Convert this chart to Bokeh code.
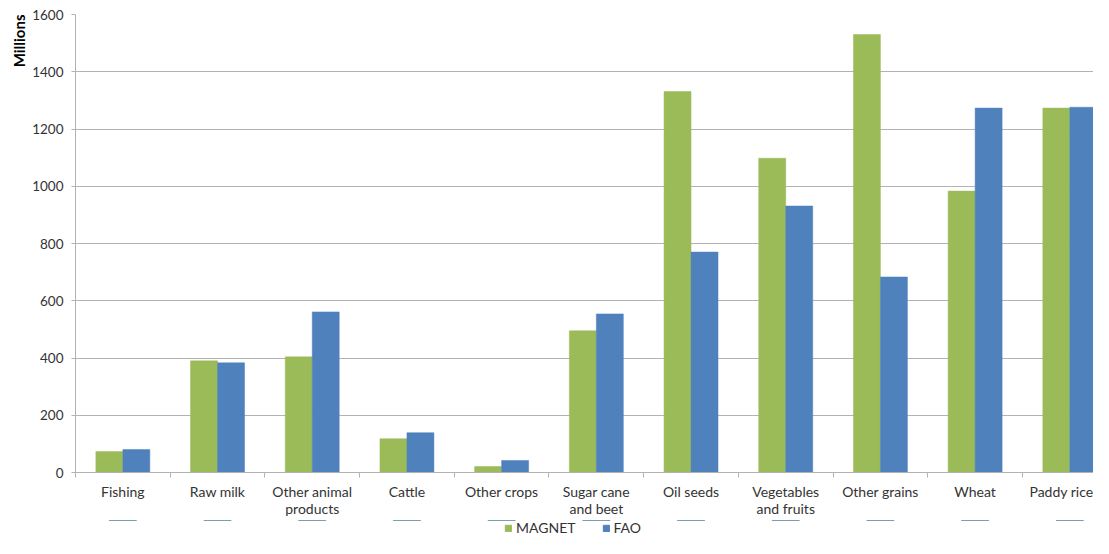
import numpy as np
from bokeh.plotting import figure
from bokeh.layouts import column
from bokeh.models import (ColumnDataSource, Range1d, FixedTicker, Legend, LegendItem, Title)
from bokeh.transform import dodge
from bokeh.embed import file_html
from bokeh.resources import INLINE

categories = ["Fishing", "Raw milk", "Other animal\nproducts", "Cattle", "Other crops",
              "Sugar cane\nand beet", "Oil seeds", "Vegetables\nand fruits", "Other grains",
              "Wheat", "Paddy rice"]
series_names = ["MAGNET", "FAO"]
magnet = [73, 390, 404, 118, 21, 495, 1331, 1098, 1530, 983, 1273]
fao = [80, 383, 561, 139, 42, 554, 770, 931, 683, 1273, 1276]
y_ticks = [0, 200, 400, 600, 800, 1000, 1200, 1400, 1600]

FONT = "Lato"
TXT = "#333333"
GREEN = "#9BBB59"
BLUE = "#4F81BD"
GRID = "#b3b3b3"

pos = [i + 0.5 for i in range(len(categories))]
src = ColumnDataSource(dict(pos=pos, magnet=magnet, fao=fao))

p = figure(width=1093, height=520, output_backend="svg", toolbar_location=None,
           x_range=Range1d(0, 10.75), y_range=Range1d(0, 1600),
           min_border_left=75, min_border_right=0, min_border_top=14, min_border_bottom=47)
p.outline_line_color = None
p.background_fill_color = "white"
p.border_fill_color = "white"

bw = 0.285
r1 = p.vbar(x=dodge("pos", -bw / 2), top="magnet", width=bw, source=src,
            fill_color=GREEN, line_color=GREEN, line_width=0.5)
r2 = p.vbar(x=dodge("pos", bw / 2), top="fao", width=bw, source=src,
            fill_color=BLUE, line_color=BLUE, line_width=0.5)

# x axis
xa = p.xaxis[0]
xa.ticker = FixedTicker(ticks=pos, minor_ticks=list(range(0, len(categories) + 1)))
xa.major_label_overrides = {pp: c for pp, c in zip(pos, categories)}
xa.major_tick_line_color = None
xa.minor_tick_line_color = GRID
xa.minor_tick_in = 0
xa.minor_tick_out = 5
xa.axis_line_color = GRID
xa.major_label_text_font = FONT
xa.major_label_text_font_size = "14px"
xa.major_label_text_color = TXT
xa.major_label_text_line_height = 1.05
xa.major_label_standoff = 4

# y axis
ya = p.yaxis[0]
ya.ticker = FixedTicker(ticks=y_ticks)
ya.major_tick_in = 0
ya.major_tick_out = 4
ya.minor_tick_line_color = None
ya.major_tick_line_color = GRID
ya.axis_line_color = GRID
ya.major_label_text_font = FONT
ya.major_label_text_font_size = "13.5px"
ya.major_label_text_color = TXT
ya.major_label_standoff = 8

p.xgrid.grid_line_color = None
p.ygrid.grid_line_color = GRID
p.ygrid.grid_line_width = 1

p.add_layout(Title(text="Millions", align="right", text_font=FONT, text_font_size="15px",
                   text_font_style="bold", text_color="#000000", standoff=4), "left")

# legend strip below the chart (same series, drawn out of view so only the legend shows)
lg = figure(width=1093, height=18, output_backend="svg", toolbar_location=None,
            x_range=Range1d(0, 10.75), y_range=Range1d(-20, -10),
            x_axis_location=None, y_axis_location=None,
            min_border_left=0, min_border_right=0, min_border_top=0, min_border_bottom=0)
lg.outline_line_color = None
lg.xgrid.visible = False
lg.ygrid.visible = False
l1 = lg.vbar(x="pos", top="magnet", width=bw, source=src, fill_color=GREEN, line_color=GREEN)
l2 = lg.vbar(x="pos", top="fao", width=bw, source=src, fill_color=BLUE, line_color=BLUE)

legend = Legend(items=[LegendItem(label=series_names[0], renderers=[l1]),
                       LegendItem(label=series_names[1], renderers=[l2])],
                orientation="horizontal", location=(429, 2),
                label_text_font=FONT, label_text_font_size="14px", label_text_color=TXT,
                glyph_width=8, glyph_height=8, label_standoff=4, spacing=26,
                padding=0, margin=0, border_line_color=None, background_fill_alpha=0,
                label_height=14)
lg.add_layout(legend, "center")

layout = column(p, lg, spacing=0)
open("out.html", "w").write(file_html(layout, INLINE))
